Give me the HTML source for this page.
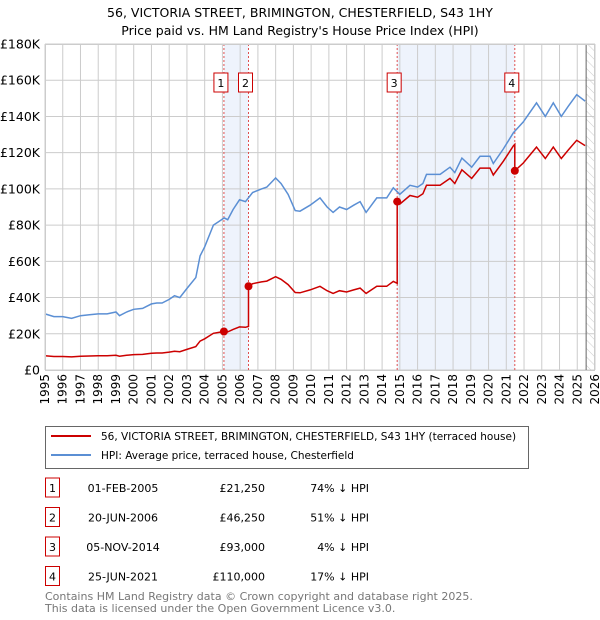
<!DOCTYPE html>
<html><head><meta charset="utf-8">
<style>
body{margin:0;background:#fff;font-family:"Liberation Sans","DejaVu Sans",sans-serif;}
#wrap{position:relative;width:600px;height:620px;overflow:hidden;}
svg text{font-family:"DejaVu Sans","Liberation Sans",sans-serif;}
</style></head>
<body>
<div id="wrap">
<svg id="chart" width="600" height="620" xmlns="http://www.w3.org/2000/svg">
<text x="300" y="17" text-anchor="middle" font-size="12.5" fill="#000">56, VICTORIA STREET, BRIMINGTON, CHESTERFIELD, S43 1HY</text>
<text x="300" y="35" text-anchor="middle" font-size="12.5" fill="#000">Price paid vs. HM Land Registry's House Price Index (HPI)</text>
<defs><pattern id="hatch" width="6" height="6" patternUnits="userSpaceOnUse" patternTransform="rotate(-45)"><line x1="0" y1="0" x2="0" y2="6" stroke="#ccc" stroke-width="1"/></pattern></defs>
<g id="plot"></g>
<g id="legend">
<rect x="45.5" y="426.5" width="483" height="42" fill="#fff" stroke="#666"/>
<line x1="51" y1="436" x2="91" y2="436" stroke="#cc0000" stroke-width="2"/>
<text x="101" y="440" font-size="10.5">56, VICTORIA STREET, BRIMINGTON, CHESTERFIELD, S43 1HY (terraced house)</text>
<line x1="51" y1="455" x2="91" y2="455" stroke="#5b8fd4" stroke-width="2"/>
<text x="101" y="459" font-size="10.5">HPI: Average price, terraced house, Chesterfield</text>
</g>
<g id="table"></g>
<text x="45" y="600" font-size="11" fill="#777">Contains HM Land Registry data © Crown copyright and database right 2025.</text>
<text x="45" y="612" font-size="11" fill="#777">This data is licensed under the Open Government Licence v3.0.</text>
</svg>
</div>
<script>
const hpiYears=[1995.0,1995.5,1996.0,1996.5,1997.0,1997.5,1998.0,1998.5,1999.0,1999.2,1999.6,2000.0,2000.5,2001.0,2001.3,2001.6,2002.0,2002.3,2002.6,2003.0,2003.5,2003.74,2004.0,2004.49,2004.8,2005.1,2005.3,2005.6,2005.96,2006.3,2006.7,2007.2,2007.5,2007.8,2008.0,2008.3,2008.7,2009.1,2009.37,2009.94,2010.5,2010.9,2011.24,2011.6,2012.0,2012.4,2012.76,2013.1,2013.7,2014.26,2014.63,2015.0,2015.57,2016.0,2016.3,2016.5,2017.27,2017.83,2018.1,2018.5,2019.05,2019.52,2020.08,2020.27,2020.83,2021.4,2021.96,2022.7,2023.2,2023.65,2024.1,2024.5,2024.97,2025.44];
const hpiValues=[31,29.5,29.5,28.5,30,30.5,31,31,32,30,32,33.5,34,36.5,37,37,39,41,40,45,51,63,68,80,82,84,83,88.6,94,93,98,100,101,104,106,103,97,88,87.7,91,95,90,87,90,88.6,91,93,87,95,95,100.6,97,102,101,103,108,108,112,109,117,112,118,118,114,122,131,137,147.5,140,147.5,140,145.7,152,148.5];
const saleDates=[2005.085,2006.47,2014.85,2021.48];
const salePrices=[21.25,46.25,93,110];
const saleLabels=["1","2","3","4"];
const saleDateText=["01-FEB-2005","20-JUN-2006","05-NOV-2014","25-JUN-2021"];
const salePriceText=["£21,250","£46,250","£93,000","£110,000"];
const saleDiffText=["74% ↓ HPI","51% ↓ HPI","4% ↓ HPI","17% ↓ HPI"];
const yTicks=[0,20,40,60,80,100,120,140,160,180];
const yTickLabels=["£0","£20K","£40K","£60K","£80K","£100K","£120K","£140K","£160K","£180K"];
const xTicks=[1995,1996,1997,1998,1999,2000,2001,2002,2003,2004,2005,2006,2007,2008,2009,2010,2011,2012,2013,2014,2015,2016,2017,2018,2019,2020,2021,2022,2023,2024,2025,2026];

const NS="http://www.w3.org/2000/svg";
const L=45,R=595,T=44,B=370;
const X=y=>L+(y-1995)/(2026-1995)*(R-L);
const Y=v=>B-v/180*(B-T);
function mk(tag,attrs,parent){const e=document.createElementNS(NS,tag);for(const k in attrs)e.setAttribute(k,attrs[k]);parent.appendChild(e);return e;}
function hpiAt(t){for(let i=0;i<hpiYears.length-1;i++){if(t>=hpiYears[i]&&t<=hpiYears[i+1]){const f=(t-hpiYears[i])/(hpiYears[i+1]-hpiYears[i]);return hpiValues[i]+f*(hpiValues[i+1]-hpiValues[i]);}}return hpiValues[hpiValues.length-1];}
const g=document.getElementById('plot');
for(const [a,b] of [[0,1],[2,3]]){
 const r=mk('rect',{x:X(saleDates[a]),y:T,width:X(saleDates[b])-X(saleDates[a]),height:B-T,fill:'#eef3fc'},g);
 
 
}
const h=mk('rect',{x:X(2025.5),y:T,width:R-X(2025.5),height:B-T,fill:'url(#hatch)'},g);


xTicks.forEach((t,i)=>{
 const l=mk('line',{x1:X(t),x2:X(t),y1:T,y2:B,stroke:'#cccccc','stroke-width':1},g);
 
 
 const tx=mk('text',{x:0,y:0,'font-size':12,'text-anchor':'end',transform:`translate(${X(t)+4},${B+4}) rotate(-90)`},g);
 tx.textContent=t;
 
 
});
yTicks.forEach((v,i)=>{
 const l=mk('line',{x1:L,x2:R,y1:Y(v),y2:Y(v),stroke:'#cccccc','stroke-width':1},g);
 
 
 const tx=mk('text',{x:40,y:Y(v)+4.5,'font-size':12.5,'text-anchor':'end'},g);
 tx.textContent=yTickLabels[i];
 
 
});
const bl=mk('line',{x1:X(2025.5),x2:X(2025.5),y1:T,y2:B,stroke:'#666','stroke-width':1},g);


saleDates.forEach((d,i)=>{
 const l=mk('line',{x1:X(d),x2:X(d),y1:T,y2:B,stroke:'#e05050','stroke-width':1,'stroke-dasharray':'2,2'},g);
 
 
});
const hp=hpiYears.map((t,i)=>X(t).toFixed(1)+','+Y(hpiValues[i]).toFixed(1)).join(' ');
const hl=mk('polyline',{points:hp,fill:'none',stroke:'#5b8fd4','stroke-width':1.5},g);


const pts=[];
const times=hpiYears.slice().concat(saleDates).sort((a,b)=>a-b);
let seg=0;
times.forEach(t=>{
 while(seg<3&&t>saleDates[seg+1])seg++;
 let k=salePrices[seg]/hpiAt(saleDates[seg]);
 if(seg<3&&t===saleDates[seg+1]){pts.push([t,hpiAt(t)*k]);seg++;k=salePrices[seg]/hpiAt(saleDates[seg]);}
 pts.push([t,hpiAt(t)*k]);
});
const rl=mk('polyline',{points:pts.map(p=>X(p[0]).toFixed(1)+','+Y(p[1]).toFixed(1)).join(' '),fill:'none',stroke:'#cc0000','stroke-width':1.5},g);


saleDates.forEach((d,i)=>{
 const c=mk('circle',{cx:X(d),cy:Y(salePrices[i]),r:4,fill:'#cc0000'},g);
 
 
 const bx=mk('rect',{x:X(d)-10,y:73,width:14,height:19,fill:'#fff',stroke:'#cc0000'},g);
 
 
 const tx=mk('text',{x:X(d)-3,y:87,'font-size':11,'text-anchor':'middle'},g);
 tx.textContent=saleLabels[i];
 
 
});
const br=mk('rect',{x:L+0.5,y:T+0.5,width:R-L-1,height:B-T,fill:'none',stroke:'#cccccc'},g);


const tb=document.getElementById('table');
saleDates.forEach((d,i)=>{
 const y=488+i*29.5;
 const bx=mk('rect',{x:45.5,y:y-10,width:14,height:19,fill:'#fff',stroke:'#cc0000'},tb);
 
 
 const cells=[[52.5,saleLabels[i],'middle'],[123,saleDateText[i],'middle'],[265,salePriceText[i],'end'],[369,saleDiffText[i],'end']];
 cells.forEach(c=>{
  const t=mk('text',{x:c[0],y:y+4,'font-size':11,'text-anchor':c[2]},tb);
  t.textContent=c[1];
  
  
 });
});
</script>
</body></html>
